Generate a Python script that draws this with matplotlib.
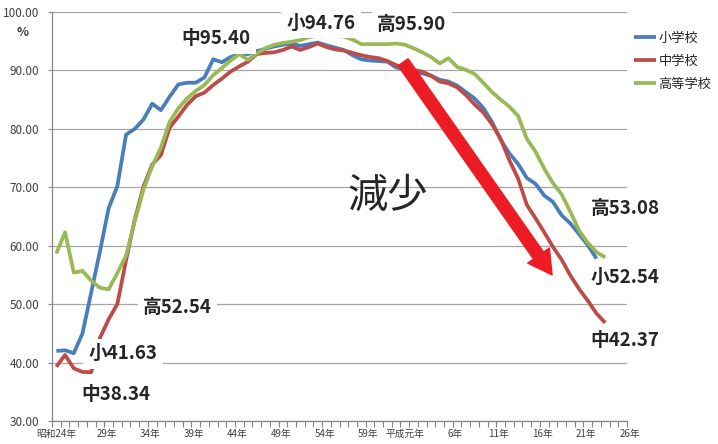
import matplotlib
matplotlib.use('Agg')
import matplotlib.pyplot as plt
from matplotlib.transforms import ScaledTranslation
import numpy as np

plt.rcParams['font.family'] = ['Noto Sans CJK JP', 'DejaVu Sans']

# ---- data ----
categories = ['昭和%d年' % y for y in range(24, 64)] + ['平成元年'] + ['平成%d年' % y for y in range(2, 27)]
tick_labels = ['昭和24年', '29年', '34年', '39年', '44年', '49年', '54年', '59年',
               '平成元年', '6年', '11年', '16年', '21年', '26年']
series_names = ['小学校', '中学校', '高等学校']

elementary = [42.0, 42.1, 41.6, 45.0, 52.0, 59.0, 66.4, 70.2, 79.0, 80.0,
              81.6, 84.3, 83.2, 85.5, 87.6, 87.9, 87.9, 88.8, 91.9, 91.4,
              92.3, 92.8, 92.8, 93.3, 93.7, 94.1, 94.4, 94.6, 94.2, 94.5,
              94.76, 94.3, 93.9, 93.5, 92.6, 91.9, 91.7, 91.6, 91.5, 90.5,
              90.2, 89.9, 89.5, 89.1, 88.4, 88.1, 87.4, 86.3, 85.2, 83.6,
              81.2, 78.1, 75.8, 74.0, 71.6, 70.6, 68.6, 67.5, 65.2, 63.8,
              62.0, 60.1, 57.8]

junior = [39.3, 41.3, 39.0, 38.4, 38.34, 44.2, 47.4, 50.0, 57.5, 64.5,
          70.1, 73.9, 75.5, 80.2, 82.1, 84.1, 85.6, 86.2, 87.5, 88.6,
          89.8, 90.7, 91.5, 92.8, 93.0, 93.1, 93.5, 94.1, 93.5, 94.0,
          94.6, 94.0, 93.6, 93.4, 93.0, 92.6, 92.3, 92.1, 91.6, 90.9,
          90.4, 90.1, 89.8, 89.1, 88.1, 87.8, 87.1, 85.8, 84.2, 82.8,
          80.8, 78.3, 74.6, 71.5, 67.0, 64.7, 62.3, 59.8, 57.6, 54.9,
          52.6, 50.6, 48.4, 46.8]

high = [58.7, 62.3, 55.4, 55.7, 54.0, 52.8, 52.54, 55.3, 58.3, 64.2,
        69.6, 73.6, 76.8, 81.2, 83.5, 85.2, 86.5, 87.5, 89.2, 90.4,
        91.7, 92.8, 91.8, 92.9, 93.8, 94.4, 94.7, 94.9, 95.2, 95.7,
        95.9, 95.9, 95.9, 95.8, 95.3, 94.5, 94.5, 94.5, 94.5, 94.6,
        94.4, 93.8, 93.1, 92.3, 91.2, 92.1, 90.6, 90.1, 89.4, 87.9,
        86.3, 85.0, 83.8, 82.2, 78.3, 76.1, 73.2, 70.7, 68.8, 65.8,
        62.6, 60.5, 58.9, 58.0]

colors = ['#4A7EBB', '#BE4B48', '#98B954']

# ---- figure ----
W, H = 718, 444
fig = plt.figure(figsize=(W / 100, H / 100), dpi=100)
ax = fig.add_axes([52 / W, 1 - 421 / H, (627 - 52) / W, (421 - 12) / H])

lines = []
for vals, c, name in zip([elementary, junior, high], colors, series_names):
    ln, = ax.plot(np.arange(len(vals)), vals, color=c, lw=2.7,
                  solid_joinstyle='round', solid_capstyle='butt', zorder=3, label=name)
    lines.append(ln)

ax.set_xlim(-0.5, len(categories) - 0.5)
ax.set_ylim(30, 100)

# y axis
yt = np.arange(30, 101, 10)
ax.set_yticks(yt)
ax.set_yticklabels(['%.2f' % v for v in yt])
ax.yaxis.grid(True, color='#A6A6A6', lw=0.9)
ax.set_axisbelow(True)
ax.tick_params(axis='y', length=3, width=0.8, color='#868686', pad=6,
               labelsize=8.5, labelcolor='#404040')

# x axis: a label every 5 categories
label_pos = [categories.index('昭和24年') + 5 * i for i in range(len(tick_labels))]
ax.set_xticks(label_pos)
ax.set_xticklabels(tick_labels)
ax.set_xticks(np.arange(-0.5, len(categories), 1), minor=True)
ax.tick_params(axis='x', which='major', length=0, pad=6, labelsize=7,
               labelcolor='#404040')
ax.tick_params(axis='x', which='minor', length=4, width=0.8, color='#868686')
for lbl in ax.get_xticklabels():
    if lbl.get_text() not in ('昭和24年', '平成元年'):
        lbl.set_transform(lbl.get_transform() + ScaledTranslation(7 / 100, 0, fig.dpi_scale_trans))

for s in ('top', 'right'):
    ax.spines[s].set_visible(False)
for s in ('left', 'bottom'):
    ax.spines[s].set_color('#868686')
    ax.spines[s].set_linewidth(0.9)

# unit
fig.text(23 / W, 1 - 32 / H, '%', ha='center', va='center', fontsize=9,
         fontweight='bold', color='#404040')

# annotations
lab_kw = dict(ha='center', va='center', fontsize=13.5, fontweight='bold', color='#262626',
              bbox=dict(boxstyle='square,pad=0.28', facecolor='white', edgecolor='none'),
              zorder=6)
notes = [('中95.40', 18.3, 95.4), ('小94.76', 30.4, 98.1), ('高95.90', 40.8, 97.8),
         ('高52.54', 13.9, 49.5), ('小41.63', 7.65, 41.5), ('中38.34', 6.85, 34.45),
         ('高53.08', 65.3, 66.45), ('小52.54', 65.3, 54.6), ('中42.37', 65.3, 43.7)]
for t, xx, yy in notes:
    ax.text(xx, yy, t, **lab_kw)

ax.text(38.0, 68.5, '減少', ha='center', va='center', fontsize=29, color='#262626', zorder=6)

ax.annotate('', xy=(56.9, 55.0), xytext=(39.8, 91.4),
            arrowprops=dict(arrowstyle='simple,head_length=0.85,head_width=0.95,tail_width=0.44',
                            color='#ED1C24', shrinkA=0, shrinkB=0, mutation_scale=20),
            zorder=5)

leg = ax.legend(handles=lines, labels=series_names, loc='upper left',
                bbox_to_anchor=(634 / W, 1 - 32 / H), bbox_transform=fig.transFigure,
                frameon=False, fontsize=9.5, handlelength=1.7, handletextpad=0.15,
                labelspacing=0.75, borderpad=0, borderaxespad=0)
for t in leg.get_texts():
    t.set_color('#262626')

fig.savefig('out.png', dpi=100)
